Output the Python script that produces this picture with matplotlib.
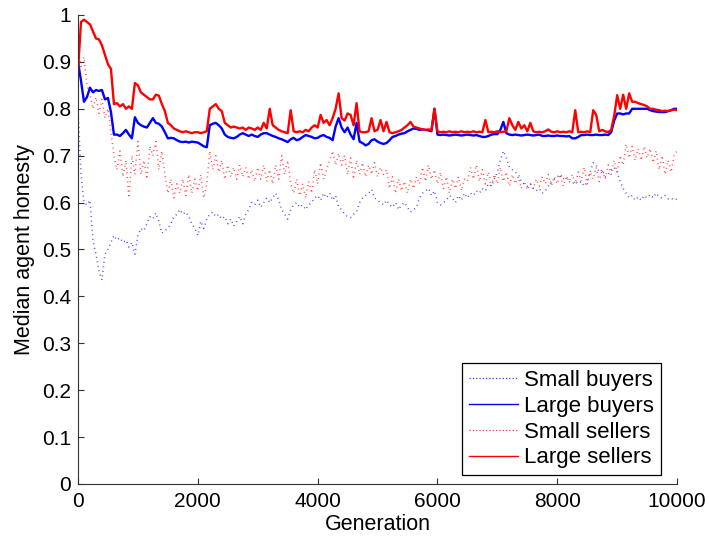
import numpy as np
import matplotlib
matplotlib.use("Agg")
import matplotlib.pyplot as plt
from matplotlib.lines import Line2D

plt.rcParams['font.family'] = ['Liberation Sans', 'DejaVu Sans']

# Generations sampled every 50 steps
generation = list(range(0, 10001, 50))

small_buyers = [
    0.80, 0.66, 0.60, 0.595, 0.605, 0.52, 0.49, 0.455, 0.435, 0.49,
    0.50, 0.515, 0.53, 0.52, 0.525, 0.515, 0.52, 0.505, 0.515, 0.49,
    0.53, 0.545, 0.54, 0.555, 0.57, 0.565, 0.578, 0.56, 0.535, 0.54,
    0.545, 0.555, 0.57, 0.575, 0.585, 0.575, 0.58, 0.57, 0.555, 0.545,
    0.53, 0.56, 0.545, 0.565, 0.575, 0.58, 0.57, 0.575, 0.565, 0.57,
    0.555, 0.565, 0.55, 0.56, 0.57, 0.555, 0.575, 0.585, 0.60, 0.595,
    0.605, 0.59, 0.60, 0.61, 0.60, 0.61, 0.62, 0.605, 0.585, 0.575,
    0.565, 0.585, 0.595, 0.60, 0.59, 0.595, 0.585, 0.595, 0.60, 0.61,
    0.615, 0.605, 0.62, 0.61, 0.62, 0.605, 0.615, 0.59, 0.585, 0.575,
    0.57, 0.568, 0.575, 0.58, 0.60, 0.61, 0.615, 0.62, 0.628, 0.61,
    0.605, 0.60, 0.595, 0.605, 0.595, 0.59, 0.60, 0.585, 0.595, 0.60,
    0.59, 0.58, 0.585, 0.59, 0.61, 0.62, 0.625, 0.63, 0.615, 0.625,
    0.60, 0.595, 0.60, 0.605, 0.615, 0.61, 0.60, 0.615, 0.605, 0.62,
    0.61, 0.62, 0.615, 0.625, 0.62, 0.63, 0.625, 0.64, 0.635, 0.65,
    0.665, 0.69, 0.71, 0.695, 0.675, 0.67, 0.665, 0.66, 0.645, 0.64,
    0.635, 0.64, 0.63, 0.625, 0.63, 0.62, 0.625, 0.635, 0.645, 0.65,
    0.655, 0.66, 0.65, 0.655, 0.645, 0.64, 0.645, 0.64, 0.645, 0.635,
    0.645, 0.665, 0.685, 0.68, 0.665, 0.67, 0.655, 0.66, 0.67, 0.675,
    0.665, 0.645, 0.63, 0.62, 0.61, 0.615, 0.605, 0.612, 0.605, 0.615,
    0.61, 0.617, 0.61, 0.62, 0.612, 0.61, 0.615, 0.608, 0.61, 0.605,
    0.608,
]

large_buyers = [
    0.90, 0.86, 0.815, 0.825, 0.845, 0.835, 0.84, 0.838, 0.84, 0.82,
    0.823, 0.793, 0.745, 0.745, 0.742, 0.748, 0.755, 0.745, 0.737, 0.782,
    0.77, 0.765, 0.762, 0.76, 0.77, 0.78, 0.77, 0.768, 0.762, 0.75,
    0.737, 0.738, 0.737, 0.733, 0.73, 0.729, 0.73, 0.728, 0.73, 0.729,
    0.728, 0.724, 0.72, 0.718, 0.765, 0.768, 0.77, 0.765, 0.758, 0.745,
    0.74, 0.738, 0.737, 0.74, 0.745, 0.748, 0.745, 0.742, 0.745, 0.742,
    0.74, 0.745, 0.748, 0.748, 0.745, 0.742, 0.74, 0.737, 0.735, 0.732,
    0.729, 0.735, 0.738, 0.733, 0.735, 0.74, 0.744, 0.742, 0.74, 0.737,
    0.738, 0.742, 0.744, 0.74, 0.738, 0.733, 0.762, 0.78, 0.76, 0.75,
    0.76, 0.745, 0.735, 0.77, 0.73, 0.727, 0.722, 0.725, 0.733, 0.735,
    0.73, 0.727, 0.725, 0.727, 0.733, 0.74, 0.742, 0.745, 0.747, 0.748,
    0.752, 0.755, 0.758, 0.757, 0.755, 0.756, 0.755, 0.754, 0.752, 0.80,
    0.745, 0.744, 0.745, 0.744, 0.743, 0.744, 0.745, 0.744, 0.743, 0.744,
    0.745, 0.744, 0.743, 0.744, 0.742, 0.74, 0.74, 0.742, 0.745, 0.746,
    0.746, 0.755, 0.772, 0.748, 0.745, 0.744, 0.745, 0.744, 0.743, 0.744,
    0.745, 0.744, 0.743, 0.744, 0.745, 0.742, 0.742, 0.743, 0.742, 0.742,
    0.743, 0.742, 0.742, 0.741, 0.742, 0.737, 0.737, 0.74, 0.744, 0.744,
    0.745, 0.744, 0.744, 0.745, 0.744, 0.744, 0.745, 0.744, 0.75, 0.775,
    0.79, 0.79, 0.788, 0.79, 0.79, 0.80, 0.80, 0.80, 0.80, 0.80,
    0.80, 0.797, 0.795, 0.794, 0.793, 0.793, 0.793, 0.795, 0.797, 0.80,
    0.80,
]

small_sellers = [
    0.93, 0.89, 0.91, 0.85, 0.83, 0.80, 0.825, 0.79, 0.82, 0.78,
    0.80, 0.75, 0.70, 0.67, 0.71, 0.655, 0.69, 0.61, 0.70, 0.66,
    0.73, 0.66, 0.69, 0.65, 0.72, 0.70, 0.73, 0.67, 0.71, 0.66,
    0.62, 0.65, 0.61, 0.64, 0.62, 0.65, 0.615, 0.66, 0.62, 0.65,
    0.625, 0.66, 0.61, 0.64, 0.71, 0.67, 0.70, 0.665, 0.69, 0.65,
    0.68, 0.655, 0.675, 0.65, 0.68, 0.655, 0.675, 0.65, 0.67, 0.645,
    0.675, 0.65, 0.68, 0.645, 0.67, 0.64, 0.68, 0.65, 0.70, 0.66,
    0.69, 0.64, 0.62, 0.65, 0.615, 0.64, 0.61, 0.645, 0.62, 0.67,
    0.64, 0.685, 0.65, 0.67, 0.69, 0.71, 0.68, 0.705, 0.68, 0.70,
    0.66, 0.695, 0.65, 0.69, 0.66, 0.685, 0.655, 0.68, 0.66, 0.685,
    0.655, 0.675, 0.66, 0.67, 0.63, 0.655, 0.62, 0.65, 0.625, 0.645,
    0.62, 0.65, 0.63, 0.655, 0.64, 0.675, 0.645, 0.68, 0.65, 0.67,
    0.64, 0.665, 0.63, 0.655, 0.62, 0.65, 0.63, 0.655, 0.625, 0.65,
    0.645, 0.675, 0.65, 0.68, 0.645, 0.67, 0.64, 0.665, 0.635, 0.66,
    0.64, 0.675, 0.645, 0.665, 0.635, 0.66, 0.64, 0.655, 0.63, 0.645,
    0.627, 0.64, 0.63, 0.65, 0.635, 0.655, 0.64, 0.66, 0.635, 0.655,
    0.64, 0.66, 0.635, 0.655, 0.645, 0.66, 0.64, 0.665, 0.645, 0.675,
    0.64, 0.665, 0.65, 0.675, 0.645, 0.67, 0.65, 0.68, 0.66, 0.69,
    0.665, 0.70, 0.68, 0.725, 0.695, 0.72, 0.69, 0.715, 0.69, 0.72,
    0.695, 0.715, 0.685, 0.71, 0.67, 0.70, 0.66, 0.69, 0.665, 0.70,
    0.71,
]

large_sellers = [
    0.88, 0.985, 0.99, 0.985, 0.98, 0.965, 0.95, 0.948, 0.935, 0.915,
    0.895, 0.885, 0.81, 0.812, 0.805, 0.81, 0.80, 0.805, 0.80, 0.855,
    0.85, 0.835, 0.83, 0.825, 0.82, 0.82, 0.83, 0.828, 0.81, 0.795,
    0.77, 0.765, 0.758, 0.755, 0.752, 0.75, 0.752, 0.75, 0.748, 0.75,
    0.75, 0.748, 0.75, 0.752, 0.80, 0.805, 0.81, 0.80, 0.795, 0.77,
    0.765, 0.76, 0.762, 0.76, 0.758, 0.76, 0.755, 0.76, 0.758, 0.755,
    0.76, 0.755, 0.77, 0.758, 0.80, 0.765, 0.76, 0.755, 0.752, 0.75,
    0.748, 0.797, 0.752, 0.75, 0.752, 0.75, 0.755, 0.752, 0.76, 0.765,
    0.76, 0.787, 0.77, 0.776, 0.765, 0.78, 0.80, 0.833, 0.78, 0.775,
    0.79, 0.787, 0.765, 0.812, 0.752, 0.75, 0.75, 0.752, 0.78, 0.752,
    0.755, 0.776, 0.752, 0.772, 0.75, 0.748, 0.75, 0.752, 0.755, 0.76,
    0.765, 0.772, 0.762, 0.76, 0.758, 0.756, 0.755, 0.756, 0.755, 0.80,
    0.752, 0.75, 0.751, 0.75, 0.752, 0.75, 0.751, 0.75, 0.752, 0.75,
    0.751, 0.75, 0.752, 0.75, 0.751, 0.75, 0.776, 0.75, 0.751, 0.75,
    0.752, 0.75, 0.751, 0.752, 0.78, 0.765, 0.755, 0.772, 0.758, 0.765,
    0.752, 0.77, 0.752, 0.75, 0.751, 0.75, 0.752, 0.756, 0.751, 0.75,
    0.752, 0.75, 0.751, 0.75, 0.752, 0.75, 0.797, 0.75, 0.751, 0.75,
    0.752, 0.75, 0.797, 0.787, 0.752, 0.755, 0.752, 0.75, 0.755, 0.785,
    0.829, 0.80, 0.83, 0.80, 0.833, 0.815, 0.815, 0.812, 0.81, 0.808,
    0.805, 0.80, 0.80, 0.798, 0.797, 0.795, 0.796, 0.795, 0.797, 0.798,
    0.797,
]

labels = ['Small buyers', 'Large buyers', 'Small sellers', 'Large sellers']
x_ticks = [0, 2000, 4000, 6000, 8000, 10000]
y_ticks = [0, 0.1, 0.2, 0.3, 0.4, 0.5, 0.6, 0.7, 0.8, 0.9, 1]

dot_style = dict(linestyle=(0, (0.6, 2.4)), linewidth=1.1, alpha=0.75)

fig = plt.figure(figsize=(7.09, 5.41), dpi=100)
ax = fig.add_axes([0.110, 0.1054, 0.845, 0.8669])

ax.plot(generation, small_buyers, color='blue', **dot_style)
ax.plot(generation, large_buyers, color='blue', linestyle='-', linewidth=1.7)
ax.plot(generation, small_sellers, color='red', **dot_style)
ax.plot(generation, large_sellers, color='red', linestyle='-', linewidth=1.7)

ax.set_xlim(0, 10000)
ax.set_ylim(0, 1)
ax.set_xticks(x_ticks)
ax.set_yticks(y_ticks)
ax.set_yticklabels([f'{v:g}' for v in y_ticks])

for side in ('top', 'right'):
    ax.spines[side].set_visible(False)
for side in ('left', 'bottom'):
    ax.spines[side].set_color('#333333')
    ax.spines[side].set_linewidth(0.8)
ax.tick_params(direction='in', length=4, width=0.8, color='#333333',
               labelsize=15)
ax.tick_params(axis='x', pad=6)
ax.tick_params(axis='y', pad=5)

ax.set_xlabel('Generation', fontsize=15.5, labelpad=2)
ax.set_ylabel('Median agent honesty', fontsize=15.5, labelpad=5)

handles = [
    Line2D([], [], color='blue', linestyle=':', linewidth=0.9, alpha=0.8),
    Line2D([], [], color='blue', linestyle='-', linewidth=1.0),
    Line2D([], [], color='red', linestyle=':', linewidth=0.9, alpha=0.8),
    Line2D([], [], color='red', linestyle='-', linewidth=1.0),
]
leg = ax.legend(handles, labels, loc='lower right', bbox_to_anchor=(0.973, 0.019),
                borderaxespad=0, fontsize=16, fancybox=False, framealpha=1,
                edgecolor='black', handlelength=2.2, handletextpad=0.3,
                labelspacing=0.22, borderpad=0.3)
leg.get_frame().set_linewidth(0.9)

fig.savefig('out.png', dpi=100)
